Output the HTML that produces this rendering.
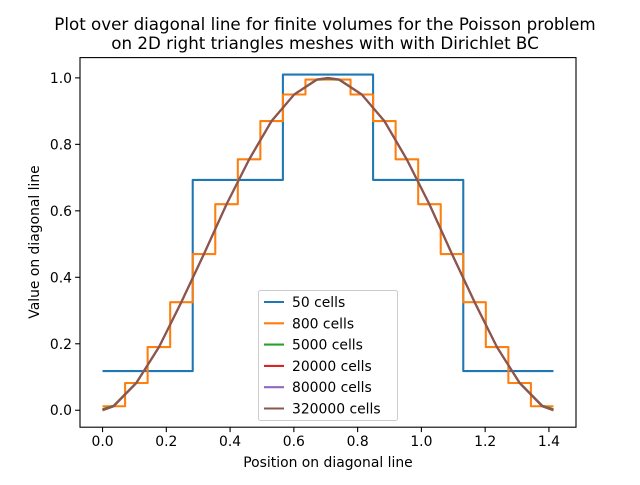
<!DOCTYPE html>
<html><head><meta charset="utf-8"><style>body{margin:0;background:#fff}svg{font-family:"DejaVu Sans","Liberation Sans",sans-serif}</style></head>
<body>
<svg id="chart" width="640" height="480" viewBox="0 0 640 480">
<rect width="640" height="480" fill="#fff"/>
<text x="325" y="30" text-anchor="middle" font-size="16.7">Plot over diagonal line for finite volumes for the Poisson problem</text>
<text x="325" y="49" text-anchor="middle" font-size="16.7">on 2D right triangles meshes with with Dirichlet BC</text>
<g id="plot"></g>
<text x="328" y="467" text-anchor="middle" font-size="13.9">Position on diagonal line</text>
<text x="39" y="242" text-anchor="middle" font-size="13.9" transform="rotate(-90 39 242)">Value on diagonal line</text>
</svg>
<script>
const xTicks=[0,0.2,0.4,0.6,0.8,1.0,1.2,1.4];
const xTickLabels=["0.0","0.2","0.4","0.6","0.8","1.0","1.2","1.4"];
const yTicks=[0,0.2,0.4,0.6,0.8,1.0];
const yTickLabels=["0.0","0.2","0.4","0.6","0.8","1.0"];
const seriesNames=["50 cells","800 cells","5000 cells","20000 cells","80000 cells","320000 cells"];
const seriesColors=["#1f77b4","#ff7f0e","#2ca02c","#d62728","#9467bd","#8c564b"];
const steps50=[0.118,0.693,1.01,0.693,0.118];
const steps800=[0.012,0.082,0.19,0.325,0.47,0.62,0.755,0.87,0.95,0.995,0.995,0.95,0.87,0.755,0.62,0.47,0.325,0.19,0.082,0.012];
const smoothX=[0,0.035,0.106,0.177,0.247,0.318,0.389,0.460,0.530,0.601,0.672,0.707,0.742,0.813,0.884,0.954,1.025,1.096,1.167,1.237,1.308,1.379,1.414];
const smooth5000=[0.003,0.014,0.083,0.19,0.325,0.47,0.62,0.755,0.87,0.95,0.994,0.998,0.994,0.95,0.87,0.755,0.62,0.47,0.325,0.19,0.083,0.014,0.003];
const smooth20000=[0.001,0.013,0.082,0.19,0.325,0.47,0.62,0.755,0.87,0.95,0.995,0.999,0.995,0.95,0.87,0.755,0.62,0.47,0.325,0.19,0.082,0.013,0.001];
const smooth80000=[0.0,0.012,0.082,0.19,0.325,0.47,0.62,0.755,0.87,0.95,0.995,1.0,0.995,0.95,0.87,0.755,0.62,0.47,0.325,0.19,0.082,0.012,0.0];
const smooth320000=[0.0,0.012,0.082,0.19,0.325,0.47,0.62,0.755,0.87,0.95,0.995,1.0,0.995,0.95,0.87,0.755,0.62,0.47,0.325,0.19,0.082,0.012,0.0];
const L=80,R=576,T=57.6,B=427.2,XMIN=-0.0707,XMAX=1.4849,YMIN=-0.051,YMAX=1.061,XEND=1.4142;
const sx=v=>L+(v-XMIN)/(XMAX-XMIN)*(R-L);
const sy=v=>B-(v-YMIN)/(YMAX-YMIN)*(B-T);
const g=document.getElementById('plot');const NS="http://www.w3.org/2000/svg";
function mk(t,a){const e=document.createElementNS(NS,t);for(const k in a)e.setAttribute(k,a[k]);g.appendChild(e);return e;}
function stepPts(vals){const w=XEND/vals.length;let p=[];vals.forEach((v,i)=>{p.push(sx(i*w)+','+sy(v));p.push(sx((i+1)*w)+','+sy(v));});return p.join(' ');}
function linePts(vals){return vals.map((v,i)=>sx(smoothX[i])+','+sy(v)).join(' ');}
const polys=[stepPts(steps50),stepPts(steps800),linePts(smooth5000),linePts(smooth20000),linePts(smooth80000),linePts(smooth320000)];
const names=["series-50-cells","series-800-cells","series-5000-cells","series-20000-cells","series-80000-cells","series-320000-cells"];
polys.forEach((p,i)=>{const e=mk('polyline',{points:p,fill:'none',stroke:seriesColors[i],'stroke-width':2.08,'stroke-linejoin':'round'});

});
const fr=mk('rect',{x:L,y:T,width:R-L,height:B-T,fill:'none',stroke:'#000','stroke-width':1.1});


xTicks.forEach((v,i)=>{mk('line',{x1:sx(v),x2:sx(v),y1:B,y2:B+4.9,stroke:'#000','stroke-width':1.1});
const t=mk('text',{x:sx(v),y:B+19,'text-anchor':'middle','font-size':13.9});t.textContent=xTickLabels[i];

});
yTicks.forEach((v,i)=>{mk('line',{x1:L-4.9,x2:L,y1:sy(v),y2:sy(v),stroke:'#000','stroke-width':1.1});
const t=mk('text',{x:L-8,y:sy(v)+5,'text-anchor':'end','font-size':13.9});t.textContent=yTickLabels[i];

});
const lg=mk('rect',{x:258.5,y:290.5,width:139,height:130,rx:2,fill:'#fff','fill-opacity':0.8,stroke:'#ccc'});


seriesNames.forEach((n,i)=>{const y=302+i*21.3;
mk('line',{x1:264,x2:284,y1:y,y2:y,stroke:seriesColors[i],'stroke-width':2.08});
const t=mk('text',{x:292,y:y+5,'font-size':13.9});t.textContent=n;

});
</script>
</body></html>
